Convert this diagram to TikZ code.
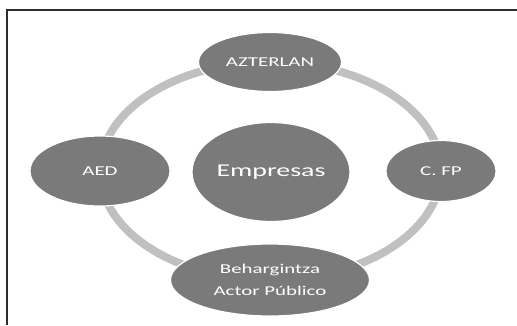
\documentclass[tikz,border=0pt]{standalone}
\usepackage{fontspec}
\usetikzlibrary{shapes.geometric,backgrounds}
\newfontfamily\ringfont[FakeStretch=1.55]{Carlito}
\definecolor{nodegray}{RGB}{122,122,122}
\definecolor{ringgray}{RGB}{192,192,192}
\definecolor{framegray}{RGB}{45,45,45}
\pgfmathsetmacro{\ringrx}{0.5523*170}
\pgfmathsetmacro{\ringry}{0.5523*109}

\begin{document}
\begin{tikzpicture}[x=1pt, y=-1pt,
    actor/.style={ellipse, fill=nodegray, draw=white, line width=1.2pt,
        inner sep=0pt, text=white, align=center,
        font=\ringfont\fontsize{13.5}{22}\selectfont},
    link/.style={ringgray, line width=8pt}]
    \useasboundingbox (0,0) rectangle (517,325);
    % frame
    \draw[framegray, line width=1.5pt] (7,325) -- (7,10) -- (517,10);
    % add actors
    \node[actor, minimum width=143, minimum height=59] (azterlan) at (270,62) {AZTERLAN};
    \node[actor, minimum width=110, minimum height=61] (cfp) at (441,171) {C. FP};
    \node[actor, minimum width=199, minimum height=72] (behar) at (270,280) {Behargintza\\Actor Público};
    \node[actor, minimum width=140, minimum height=70] (aed) at (100,171) {AED};
    \node[actor, minimum width=158, minimum height=99,
        font=\ringfont\fontsize{18}{20}\selectfont] (empresas) at (271,172) {Empresas};
    % draw ring behind the actors
    \begin{scope}[on background layer]
        \draw[link] (azterlan.center) .. controls +(\ringrx,0) and +(0,-\ringry) .. (cfp.center);
        \draw[link] (cfp.center) .. controls +(0,\ringry) and +(\ringrx,0) .. (behar.center);
        \draw[link] (behar.center) .. controls +(-\ringrx,0) and +(0,\ringry) .. (aed.center);
        \draw[link] (aed.center) .. controls +(0,-\ringry) and +(-\ringrx,0) .. (azterlan.center);
    \end{scope}
\end{tikzpicture}
\end{document}
